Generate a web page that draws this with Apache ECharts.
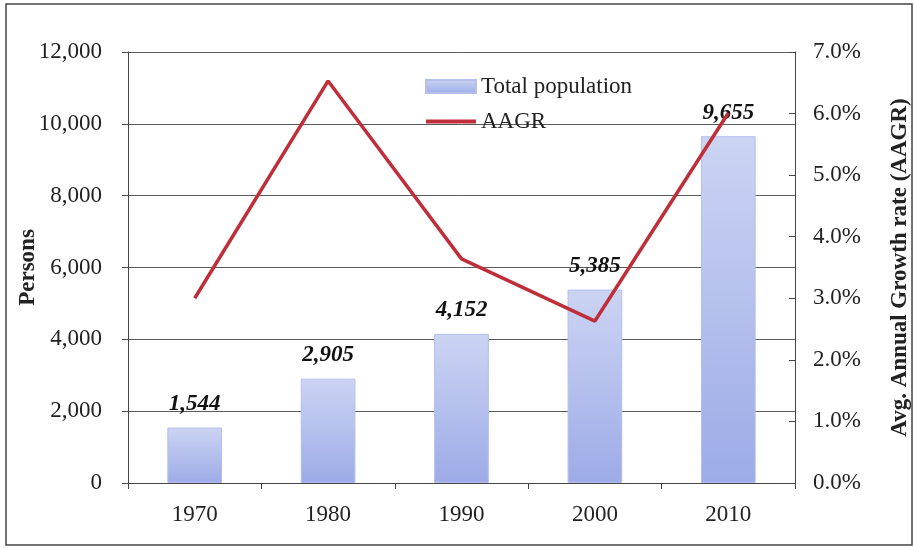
<!DOCTYPE html>
<html>
<head>
<meta charset="utf-8">
<script src="https://cdn.jsdelivr.net/npm/echarts@6/dist/echarts.min.js"></script>
<style>
  html, body { margin: 0; padding: 0; background: #ffffff; }
  #chart { width: 914px; height: 548px; }
</style>
</head>
<body>
<div id="chart"></div>
<script>
var years = ["1970", "1980", "1990", "2000", "2010"];
var population = [1544, 2905, 4152, 5385, 9655];
var aagr = [3.0, 6.53, 3.64, 2.63, 6.01];
var leftTicks = [0, 2000, 4000, 6000, 8000, 10000, 12000];
var rightTicks = [0, 1, 2, 3, 4, 5, 6, 7];

var serif = "'Liberation Serif', 'DejaVu Serif', serif";
var ink = "#222222";
var gridGray = "#5a5a5a";

var chart = echarts.init(document.getElementById("chart"));

var option = {
  animation: false,
  textStyle: { fontFamily: serif, color: ink },
  graphic: [
    {
      type: "rect",
      shape: { x: 6, y: 4, width: 906, height: 541 },
      style: { fill: "none", stroke: "#444", lineWidth: 1.5 }
    }
  ],
  grid: { left: 128, right: 119, top: 52, bottom: 65, outerBoundsMode: "none" },
  legend: {
    orient: "vertical",
    left: 419,
    top: 70,
    itemWidth: 50,
    itemHeight: 13,
    itemGap: 12,
    textStyle: { fontFamily: serif, fontSize: 23, color: ink },
    data: [
      { name: "Total population", icon: "rect" },
      { name: "AAGR", itemStyle: { opacity: 0 }, lineStyle: { width: 4, color: "#bf2f3a" } }
    ]
  },
  xAxis: {
    type: "category",
    data: years,
    axisLine: { lineStyle: { color: "#444", width: 1 } },
    axisTick: { show: true, length: 6, lineStyle: { color: "#444" } },
    axisLabel: { fontFamily: serif, fontSize: 23, color: ink, margin: 20 }
  },
  yAxis: [
    {
      type: "value",
      min: leftTicks[0],
      max: leftTicks[leftTicks.length - 1],
      interval: 2000,
      name: "Persons",
      nameLocation: "middle",
      nameGap: 88,
      nameMoveOverlap: false,
      nameTextStyle: { fontFamily: serif, fontSize: 23, fontWeight: "bold", color: ink },
      axisLine: { show: true, lineStyle: { color: "#444" } },
      axisTick: { show: true, length: 6, lineStyle: { color: "#444" } },
      axisLabel: {
        fontFamily: serif, fontSize: 23, color: ink, margin: 26,
        formatter: function (v) { return v.toLocaleString("en-US"); }
      },
      splitLine: { show: true, lineStyle: { color: gridGray, width: 1 } }
    },
    {
      type: "value",
      min: rightTicks[0],
      max: rightTicks[rightTicks.length - 1],
      interval: 1,
      position: "right",
      name: "Avg. Annual Growth rate (AAGR)",
      nameLocation: "middle",
      nameGap: 94,
      nameMoveOverlap: false,
      nameRotate: 90,
      nameTextStyle: { fontFamily: serif, fontSize: 23, fontWeight: "bold", color: ink },
      axisLine: { show: true, lineStyle: { color: "#444" } },
      axisTick: { show: true, inside: true, length: 6, lineStyle: { color: "#444" } },
      axisLabel: {
        fontFamily: serif, fontSize: 23, color: ink, margin: 18,
        formatter: function (v) { return v.toFixed(1) + "%"; }
      },
      splitLine: { show: false }
    }
  ],
  series: [
    {
      name: "Total population",
      type: "bar",
      yAxisIndex: 0,
      data: population,
      barWidth: "41%",
      itemStyle: {
        color: new echarts.graphic.LinearGradient(0, 0, 0, 1, [
          { offset: 0, color: "#ccd4f3" },
          { offset: 1, color: "#9dabe7" }
        ]),
        borderColor: "#b4bfec",
        borderWidth: 1
      },
      label: {
        show: true,
        position: "top",
        distance: 12,
        fontFamily: serif,
        fontSize: 23,
        fontWeight: "bold",
        fontStyle: "italic",
        color: "#111",
        formatter: function (p) { return p.value.toLocaleString("en-US"); }
      }
    },
    {
      name: "AAGR",
      type: "line",
      yAxisIndex: 1,
      data: aagr,
      symbol: "none",
      lineStyle: { color: "#bf2f3a", width: 3.5 },
      itemStyle: { color: "#bf2f3a" },
      z: 5
    }
  ]
};

chart.setOption(option);
</script>
</body>
</html>
